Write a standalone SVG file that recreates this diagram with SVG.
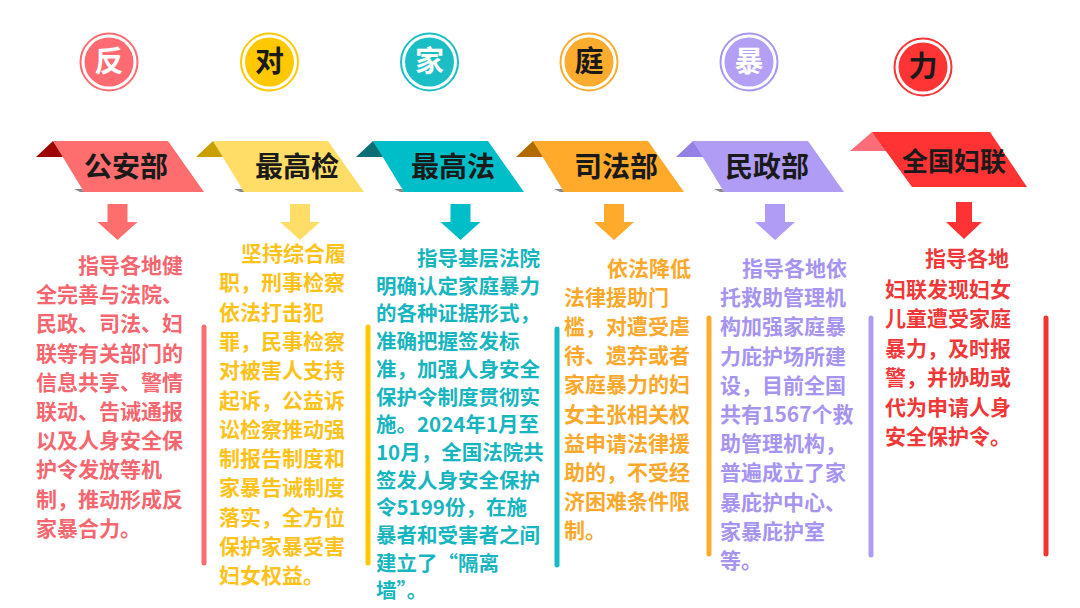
<svg xmlns="http://www.w3.org/2000/svg" width="1080" height="608" viewBox="0 0 1080 608">
<style>
  .ct { font-family: "Noto Sans CJK SC", "Noto Sans", sans-serif; font-weight: bold; font-size: 29px; text-anchor: middle; }
  .bt { font-family: "Noto Sans CJK SC", "Noto Sans", sans-serif; font-weight: bold; font-size: 28px; text-anchor: middle; fill: #1a1a1a; }
  .body { font-family: "Noto Sans CJK SC", "Noto Sans", sans-serif; font-weight: bold; font-size: 21px; }
  .ring { fill: #ffffff; stroke-width: 2; }
  .bar { stroke-width: 5; stroke-linecap: round; fill: none; }
  .shadow { fill: #5a5a5a; opacity: 0.7; }
</style>
<rect x="0" y="0" width="1080" height="608" fill="#ffffff"/>

<!-- title circles -->
<g id="circle-fan">
  <circle class="ring" cx="109" cy="62" r="28.5" stroke="#FF6B70"/>
  <circle cx="109" cy="62" r="24.5" fill="#FF6B70"/>
  <text class="ct" x="109" y="72" fill="#ffffff">反</text>
</g>
<g id="circle-dui">
  <circle class="ring" cx="269.5" cy="62" r="28.5" stroke="#FFC800"/>
  <circle cx="269.5" cy="62" r="24.5" fill="#FFC800"/>
  <text class="ct" x="269.5" y="72" fill="#1a1a1a">对</text>
</g>
<g id="circle-jia">
  <circle class="ring" cx="429.5" cy="62" r="28.5" stroke="#1CBEC6"/>
  <circle cx="429.5" cy="62" r="24.5" fill="#1CBEC6"/>
  <text class="ct" x="429.5" y="72" fill="#ffffff">家</text>
</g>
<g id="circle-ting">
  <circle class="ring" cx="589" cy="62" r="28.5" stroke="#FBAC2E"/>
  <circle cx="589" cy="62" r="24.5" fill="#FBAC2E"/>
  <text class="ct" x="589" y="72" fill="#1a1a1a">庭</text>
</g>
<g id="circle-bao">
  <circle class="ring" cx="749" cy="62" r="28.5" stroke="#A996EE"/>
  <circle cx="749" cy="62" r="24.5" fill="#B3A0F5"/>
  <text class="ct" x="749" y="72" fill="#ffffff">暴</text>
</g>
<g id="circle-li">
  <circle class="ring" cx="923" cy="67" r="28.5" stroke="#FF3535"/>
  <circle cx="923" cy="67" r="24.5" fill="#FF3535"/>
  <text class="ct" x="923" y="77" fill="#1a1a1a">力</text>
</g>

<!-- banners -->
<g id="banner-gonganbu">
  <polygon points="36,157 53,141 64,157" fill="#9E0303"/>
  <polygon class="shadow" points="74,189 82,189 85,192 80,192"/>
  <polygon points="53,141 168,141 204,192 84,192" fill="#FF6E6E"/>
  <text class="bt" x="126" y="177">公安部</text>
</g>
<g id="banner-zuigaojian">
  <polygon points="196,157 213,141 224,157" fill="#C8A000"/>
  <polygon class="shadow" points="234,189 242,189 245,192 240,192"/>
  <polygon points="213,141 328,141 364,192 244,192" fill="#FFDD66"/>
  <text class="bt" x="297" y="177">最高检</text>
</g>
<g id="banner-zuigaofa">
  <polygon points="356,157 373,141 384,157" fill="#0B6E74"/>
  <polygon class="shadow" points="394,189 402,189 405,192 400,192"/>
  <polygon points="373,141 488,141 524,192 404,192" fill="#00BEC8"/>
  <text class="bt" x="453" y="177">最高法</text>
</g>
<g id="banner-sifabu">
  <polygon points="516,157 533,141 544,157" fill="#B06A00"/>
  <polygon class="shadow" points="554,189 562,189 565,192 560,192"/>
  <polygon points="533,141 648,141 684,192 564,192" fill="#FFAA2B"/>
  <text class="bt" x="616" y="177">司法部</text>
</g>
<g id="banner-minzhengbu">
  <polygon points="676,157 693,141 704,157" fill="#9580E4"/>
  <polygon class="shadow" points="714,189 722,189 725,192 720,192"/>
  <polygon points="693,141 808,141 844,192 724,192" fill="#B09CF5"/>
  <text class="bt" x="767" y="177">民政部</text>
</g>
<g id="banner-quanguofulian">
  <polygon points="850,151 872,132 890,151" fill="#FF6E78"/>
  <polygon points="872,132 990,132 1027,187 912,187" fill="#FF3333"/>
  <text class="bt" x="954" y="171" style="font-size:26px">全国妇联</text>
</g>

<!-- connectors: arrows from banners to text -->
<g id="connectors">
  <polygon points="107.5,204 127.5,204 127.5,222 137.5,222 117.5,240 97.5,222 107.5,222" fill="#FF6E6E"/>
  <polygon points="290,204 310,204 310,222 320,222 300,240 280,222 290,222" fill="#FFDD66"/>
  <polygon points="450.5,204 470.5,204 470.5,222 480.5,222 460.5,240 440.5,222 450.5,222" fill="#00BEC8"/>
  <polygon points="604,204 624,204 624,222 634,222 614,240 594,222 604,222" fill="#FFAA2B"/>
  <polygon points="765,204 785,204 785,222 795,222 775,240 755,222 765,222" fill="#B09CF5"/>
  <polygon points="956,202 972,202 972,222 982,222 964,239 946,222 956,222" fill="#FF3333"/>
</g>

<!-- text columns -->
<g id="col-gonganbu">
  <line class="bar" x1="204" y1="327" x2="204" y2="563" stroke="#FF6B70"/>
  <text class="body" fill="#F5666E">
    <tspan x="78" y="273">指导各地健</tspan>
    <tspan x="36" y="302.2">全完善与法院、</tspan>
    <tspan x="36" y="331.4">民政、司法、妇</tspan>
    <tspan x="36" y="360.6">联等有关部门的</tspan>
    <tspan x="36" y="389.8">信息共享、警情</tspan>
    <tspan x="36" y="419">联动、告诫通报</tspan>
    <tspan x="36" y="448.2">以及人身安全保</tspan>
    <tspan x="36" y="477.4">护令发放等机</tspan>
    <tspan x="36" y="506.6">制，推动形成反</tspan>
    <tspan x="36" y="535.8">家暴合力。</tspan>
  </text>
</g>
<g id="col-zuigaojian">
  <line class="bar" x1="368" y1="327" x2="368" y2="563" stroke="#FFC800"/>
  <text class="body" fill="#FFC21A">
    <tspan x="241" y="261">坚持综合履</tspan>
    <tspan x="219" y="290.3">职，刑事检察</tspan>
    <tspan x="219" y="319.6">依法打击犯</tspan>
    <tspan x="219" y="348.9">罪，民事检察</tspan>
    <tspan x="219" y="378.2">对被害人支持</tspan>
    <tspan x="219" y="407.5">起诉，公益诉</tspan>
    <tspan x="219" y="436.8">讼检察推动强</tspan>
    <tspan x="219" y="466.1">制报告制度和</tspan>
    <tspan x="219" y="495.4">家暴告诫制度</tspan>
    <tspan x="219" y="524.7">落实，全方位</tspan>
    <tspan x="219" y="554">保护家暴受害</tspan>
    <tspan x="219" y="583.3">妇女权益。</tspan>
  </text>
</g>
<g id="col-zuigaofa">
  <line class="bar" x1="557" y1="329" x2="557" y2="565" stroke="#14BAC4"/>
  <text class="body" fill="#17B5BF" style="font-size:20.5px">
    <tspan x="417" y="266">指导基层法院</tspan>
    <tspan x="376" y="293.7">明确认定家庭暴力</tspan>
    <tspan x="376" y="321.4">的各种证据形式，</tspan>
    <tspan x="376" y="349.1">准确把握签发标</tspan>
    <tspan x="376" y="376.8">准，加强人身安全</tspan>
    <tspan x="376" y="404.5">保护令制度贯彻实</tspan>
    <tspan x="376" y="432.2">施。2024年1月至</tspan>
    <tspan x="376" y="459.9">10月，全国法院共</tspan>
    <tspan x="376" y="487.6">签发人身安全保护</tspan>
    <tspan x="376" y="515.3">令5199份，在施</tspan>
    <tspan x="376" y="543">暴者和受害者之间</tspan>
    <tspan x="376" y="570.7">建立了“隔离</tspan>
    <tspan x="376" y="598.4">墙”。</tspan>
  </text>
</g>
<g id="col-sifabu">
  <line class="bar" x1="709" y1="318" x2="709" y2="554" stroke="#FBAC2E"/>
  <text class="body" fill="#FBA82B">
    <tspan x="607" y="276">依法降低</tspan>
    <tspan x="564" y="305.1">法律援助门</tspan>
    <tspan x="564" y="334.2">槛，对遭受虐</tspan>
    <tspan x="564" y="363.3">待、遗弃或者</tspan>
    <tspan x="564" y="392.4">家庭暴力的妇</tspan>
    <tspan x="564" y="421.5">女主张相关权</tspan>
    <tspan x="564" y="450.6">益申请法律援</tspan>
    <tspan x="564" y="479.7">助的，不受经</tspan>
    <tspan x="564" y="508.8">济困难条件限</tspan>
    <tspan x="564" y="537.9">制。</tspan>
  </text>
</g>
<g id="col-minzhengbu">
  <line class="bar" x1="871" y1="318" x2="871" y2="555" stroke="#B09CF5"/>
  <text class="body" fill="#A794F0">
    <tspan x="742" y="276">指导各地依</tspan>
    <tspan x="720" y="305.2">托救助管理机</tspan>
    <tspan x="720" y="334.4">构加强家庭暴</tspan>
    <tspan x="720" y="363.6">力庇护场所建</tspan>
    <tspan x="720" y="392.8">设，目前全国</tspan>
    <tspan x="720" y="422">共有1567个救</tspan>
    <tspan x="720" y="451.2">助管理机构，</tspan>
    <tspan x="720" y="480.4">普遍成立了家</tspan>
    <tspan x="720" y="509.6">暴庇护中心、</tspan>
    <tspan x="720" y="538.8">家暴庇护室</tspan>
    <tspan x="720" y="568">等。</tspan>
  </text>
</g>
<g id="col-quanguofulian">
  <line class="bar" x1="1046" y1="318" x2="1046" y2="554" stroke="#F53333"/>
  <text class="body" fill="#F03838">
    <tspan x="925" y="266">指导各地</tspan>
    <tspan x="885" y="297">妇联发现妇女</tspan>
    <tspan x="885" y="326">儿童遭受家庭</tspan>
    <tspan x="885" y="355.5">暴力，及时报</tspan>
    <tspan x="885" y="385">警，并协助或</tspan>
    <tspan x="885" y="414.5">代为申请人身</tspan>
    <tspan x="885" y="444">安全保护令。</tspan>
  </text>
</g>
</svg>
